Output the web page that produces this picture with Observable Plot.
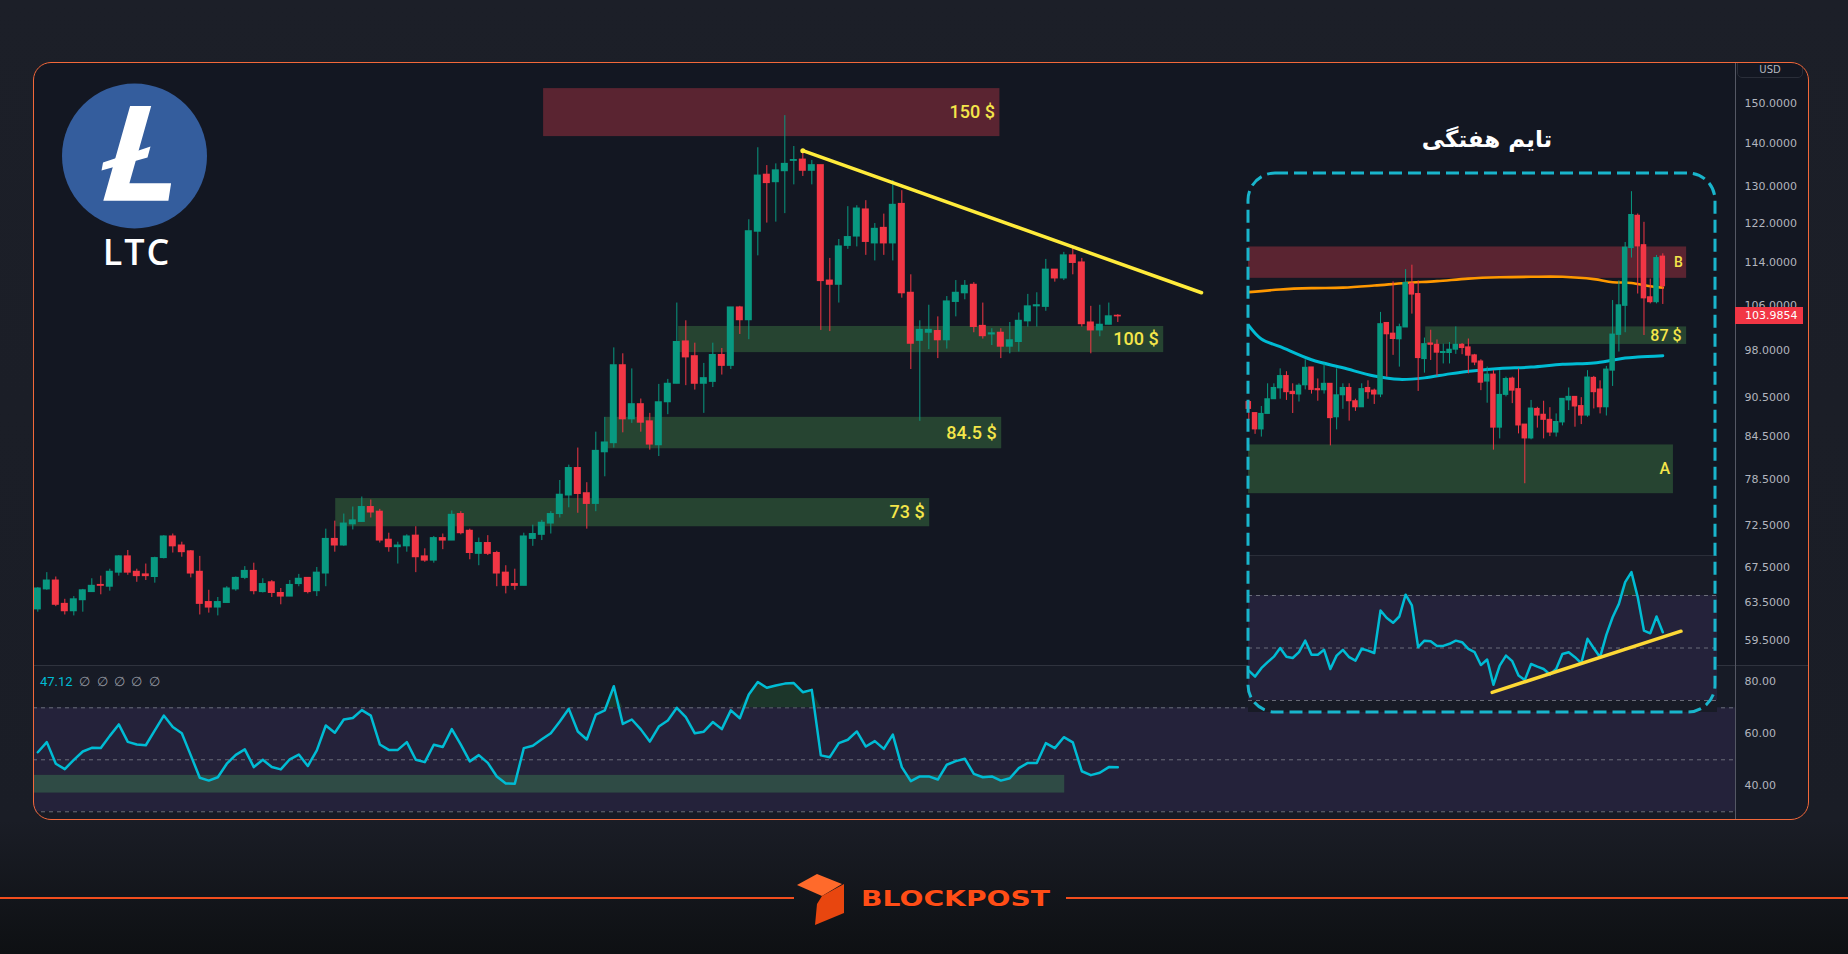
<!DOCTYPE html>
<html><head><meta charset="utf-8">
<script src="https://cdn.jsdelivr.net/npm/d3@7"></script>
<script src="https://cdn.jsdelivr.net/npm/@observablehq/plot@0.6"></script>
<style>
html,body{margin:0;padding:0;}
body{width:1848px;height:954px;overflow:hidden;background:linear-gradient(180deg,#1c1f28 0%,#1a1d26 86%,#0e1013 100%);font-family:"DejaVu Sans",sans-serif;}
#stage{position:relative;width:1848px;height:954px;}
#frame{position:absolute;left:33px;top:62px;width:1776px;height:758px;border-radius:18px;overflow:hidden;background:#131722;}
#border{position:absolute;left:33px;top:62px;width:1776px;height:758px;box-sizing:border-box;border:1.5px solid #f2683a;border-radius:18px;pointer-events:none;}
.abs{position:absolute;}
svg{display:block;}
#deco{position:absolute;left:0;top:0;pointer-events:none;}
</style></head>
<body><div id="stage">
<div id="frame">
  <div id="price" class="abs" style="left:0;top:0;width:1776px;height:603px"></div>
  <div id="rsi" class="abs" style="left:0;top:603px;width:1776px;height:155px"></div>
  <div class="abs" style="left:0;top:603px;width:1776px;height:1px;background:#2f333e"></div>
  <div class="abs" style="left:1702px;top:0;width:1px;height:758px;background:#555864"></div>
  <div id="inset" class="abs" style="left:1215px;top:111px;width:469px;height:539px;background:#131722">
    <div id="wprice" class="abs" style="left:0;top:0;width:469px;height:382px"></div>
    <div id="wrsi" class="abs" style="left:0;top:382px;width:469px;height:157px"></div>
    <div class="abs" style="left:0;top:382px;width:469px;height:1px;background:#2a2e39"></div>
  </div>
  <div id="legend" class="abs" style="left:7px;top:612px;font-family:Roboto,sans-serif;font-size:13px;line-height:16px;white-space:pre"></div>
  <div class="abs" style="left:1704px;top:-4px;width:66px;height:20px;box-sizing:border-box;border:1px solid #2a2e39;border-radius:5px;color:#b2b5be;font-size:10px;line-height:22px;text-align:center">USD</div>
  <div id="badge" class="abs" style="left:1702px;width:68px;height:17px;background:#f23645;color:#fff;font-size:11px;line-height:17px;padding-left:10px;box-sizing:border-box"></div>
</div>
<div id="border"></div>
<svg id="deco" width="1848" height="954" viewBox="0 0 1848 954">
  <circle cx="134.5" cy="156" r="72.5" fill="#345d9d"/>
  <polygon points="130.1,105.9 151.2,105.9 129.4,183.2 171.1,183.2 168.4,200.8 103.3,200.8" fill="#ffffff"/>
  <polygon points="103,162.5 150.5,146.5 147.5,157.5 101.5,170.5" fill="#ffffff"/>
  <text x="137" y="265" text-anchor="middle" font-family="Open Sans, sans-serif" font-weight="600" font-size="36" letter-spacing="2" fill="#ffffff">LTC</text>
  <text x="1487" y="147" text-anchor="middle" font-family="DejaVu Sans, sans-serif" font-weight="bold" font-size="23" fill="#ffffff" direction="rtl">تایم هفتگی</text>
  <rect x="1248" y="173" width="467" height="539" rx="27" ry="27" fill="none" stroke="#19b5cc" stroke-width="3" stroke-dasharray="13 6"/>
  <line x1="0" y1="898" x2="794" y2="898" stroke="#f24e1e" stroke-width="2"/>
  <line x1="1066" y1="898" x2="1848" y2="898" stroke="#f24e1e" stroke-width="2"/>
  <polygon points="797,885 817,874 842,884 822,896" fill="#ff6a2b"/>
  <polygon points="822,896 844,884 844,913 815,925 817,904" fill="#e8460f"/>
  <text x="861" y="906" font-family="DejaVu Sans, sans-serif" font-weight="bold" font-size="22" fill="#ff4d16" textLength="189" lengthAdjust="spacingAndGlyphs" style="paint-order:stroke" stroke="#000" stroke-opacity="0.25" stroke-width="1">BLOCKPOST</text>
</svg>
</div>
<script>
// ---------- Daily LTC candles (main chart) ----------
const open = [62.8,65.0,66.0,63.4,62.6,63.8,64.7,65.5,65.3,66.9,
68.8,67.0,66.7,66.4,68.6,71.2,70.1,69.4,67.0,63.6,
63.0,63.5,65.0,66.3,67.1,64.7,65.8,64.6,64.2,65.6,
66.3,64.8,66.8,70.9,70.1,72.7,73.0,74.9,74.3,70.8,
69.9,70.0,71.3,68.8,68.3,71.0,70.7,74.0,71.9,69.1,
70.4,69.2,66.9,65.6,65.4,70.9,71.4,72.8,74.0,76.4,
80.1,76.7,75.3,82.3,83.6,95.6,87.1,89.4,86.8,83.3,
89.7,92.6,99.6,97.1,92.6,92.9,97.3,95.5,105.6,103.3,
120.3,132.7,131.0,133.5,135.9,136.2,133.6,134.9,110.6,109.8,
117.4,119.3,125.0,117.9,121.1,117.9,126.2,108.3,99.7,101.1,
101.4,99.8,106.6,108.2,109.8,102.3,100.8,101.1,98.7,99.5,
103.1,105.8,105.7,112.7,111.0,115.5,114.1,102.9,101.5,102.5,
104.1];
const high = [65.2,66.9,66.4,63.9,64.2,65.0,66.2,66.5,67.3,68.9,
69.5,67.3,67.9,68.7,71.3,71.5,70.5,69.5,68.8,64.9,
64.1,65.3,66.4,67.6,68.0,66.2,66.0,65.1,66.0,66.7,
66.3,67.5,72.1,73.1,74.0,74.9,76.2,75.8,74.6,71.6,
70.5,71.4,72.4,69.7,71.2,71.5,74.4,74.3,72.1,71.0,
71.3,69.4,67.7,67.3,71.6,72.6,73.2,74.3,78.4,80.5,
82.9,78.1,85.2,87.4,98.5,97.5,95.0,90.2,88.0,92.5,
93.3,106.4,103.2,99.3,95.9,99.3,98.4,105.6,105.8,122.8,
139.0,134.8,135.2,146.9,139.3,138.3,136.0,134.9,114.9,118.7,
125.6,125.8,126.9,122.0,124.0,131.4,129.1,111.7,103.2,106.0,
103.9,107.6,110.6,110.6,110.2,106.4,101.8,101.8,102.9,104.6,
108.0,108.3,114.7,112.7,116.1,117.3,114.9,105.8,106.0,106.4,
104.3];
const low = [62.5,64.9,63.1,62.2,62.1,62.5,64.7,64.4,64.8,66.5,
66.6,65.8,66.0,65.7,68.5,69.2,68.7,66.3,62.2,62.4,
62.1,63.5,64.8,66.1,64.4,64.6,64.1,63.3,64.2,65.3,
64.5,64.2,65.3,69.3,70.0,72.0,73.0,73.5,70.4,69.3,
67.9,69.3,66.9,68.1,68.0,69.6,70.7,71.4,68.4,67.7,
68.9,65.3,64.5,64.9,65.4,70.0,70.7,71.5,73.5,74.8,
74.1,72.1,74.3,78.9,82.9,85.1,86.5,85.2,82.6,81.7,
87.8,92.6,92.3,91.6,88.0,92.0,94.0,94.9,100.8,99.9,
115.4,122.1,122.3,124.1,130.4,132.3,130.4,101.5,101.3,106.4,
116.7,117.2,115.5,114.4,115.5,114.4,107.3,94.9,86.8,98.2,
96.7,98.3,103.9,107.0,101.1,100.0,98.9,96.7,97.5,97.8,
102.1,102.1,104.9,110.3,110.6,111.7,102.1,97.5,100.4,102.5,
102.9];
const close = [65.1,66.0,63.3,62.6,63.9,64.9,65.4,65.4,67.0,68.8,
66.9,66.5,66.5,68.6,71.2,70.0,69.3,66.8,63.4,63.0,
63.6,65.1,66.3,67.1,64.8,65.6,64.6,64.2,65.5,66.2,
64.7,66.9,70.9,70.1,72.8,73.2,74.9,74.2,70.7,69.9,
70.1,71.2,68.7,68.3,71.0,70.7,73.9,71.6,69.2,70.4,
69.1,66.8,65.4,65.4,71.2,71.5,72.9,74.0,76.5,80.1,
76.6,75.3,82.5,83.7,95.6,87.1,89.4,86.6,83.4,89.7,
92.6,99.5,96.9,92.6,93.5,97.3,95.5,105.6,103.3,120.4,
132.5,130.8,133.7,135.2,136.1,133.6,134.9,110.5,109.8,117.3,
119.2,125.2,118.2,120.9,117.9,126.0,108.2,99.2,101.6,101.6,
99.8,106.7,108.3,109.6,102.1,100.5,101.0,98.7,99.8,103.2,
105.8,106.0,112.7,111.0,115.5,114.0,102.6,101.5,102.5,104.0,
103.9854];
const rsi = [52.9,56.8,48.5,46.4,50.0,53.2,54.6,54.5,59.2,63.6,
56.9,55.9,55.6,61.3,67.0,62.6,60.2,51.7,43.1,42.0,
43.3,48.5,51.9,54.0,47.2,50.0,47.2,46.3,50.2,52.0,
47.6,53.6,63.2,60.4,65.5,66.1,69.1,67.0,55.9,53.8,
53.8,56.8,50.0,49.1,55.8,54.9,61.8,55.8,49.4,51.8,
48.8,43.6,40.9,40.8,54.5,55.4,57.9,60.2,64.7,69.6,
60.9,57.8,67.4,69.0,78.3,63.8,65.5,61.7,57.0,62.8,
65.1,70.0,66.4,60.2,60.8,64.5,61.8,69.0,66.0,75.1,
79.9,77.7,78.6,79.3,79.5,76.0,76.9,51.7,51.0,56.4,
57.7,60.9,55.1,57.2,54.2,59.7,47.2,41.8,43.6,43.6,
42.4,48.1,49.5,50.4,44.6,43.3,43.6,42.0,42.9,46.8,
48.8,48.8,56.4,54.5,58.7,56.7,45.6,44.1,45.0,47.2,
47.12];
const lastPrice = 103.9854;
const priceTicks = [150,140,130,122,114,106,98,90.5,84.5,78.5,72.5,67.5,63.5,59.5];
const rsiTicks = [80,60,40];

// zones on the daily chart (candle-index extents, price bounds)
const zoneLabel = ["150 $","100 $","84.5 $","73 $"];
const zoneKind = ["supply","demand","demand","demand"];
const zoneFrom = [56.2,71.2,63.1,33.1];
const zoneTo = [106.9,125.1,107.1,99.1];
const zoneLow = [141.7,97.7,82.8,72.4];
const zoneHigh = [153.9,102.2,87.4,76.0];
// descending trendline (candle index, price)
const trendIdx = [85.0,129.3];
const trendPrice = [138.3,108.3];
// RSI oversold box on daily RSI
const rsiBoxTo = 114.1, rsiBoxLow = 37.2, rsiBoxHigh = 44.0;

// ---------- Weekly inset ----------
const wOpen = [67.6,64.9,61.1,64.7,68.3,71.1,74.4,70.2,69.5,71.9,
76.8,70.9,70.6,72.3,63.9,69.3,71.2,67.8,66.3,71.2,
70.5,69.5,90.5,87.0,85.2,89.0,104.6,100.7,79.2,83.9,
83.5,81.0,81.0,82.0,83.5,82.7,80.3,78.5,72.9,74.8,
61.5,69.4,73.7,70.9,62.2,59.1,65.9,64.5,63.3,60.4,
62.7,68.0,68.9,66.6,64.3,73.9,70.8,66.3,75.9,86.6,
96.4,119.3,134.4,120.6,99.5,97.7,115.6];
const wHigh = [68.0,64.9,66.5,72.3,72.3,76.4,75.6,72.3,72.3,79.0,
76.8,73.6,77.8,72.3,76.4,72.3,72.3,68.3,72.3,73.1,
70.9,94.1,90.5,105.3,90.1,110.2,112.0,105.7,85.6,88.1,
85.0,83.7,84.2,89.2,83.9,85.3,80.6,79.0,76.9,75.9,
75.9,74.1,74.1,76.4,62.2,68.0,66.3,67.8,66.2,64.7,
68.4,71.2,68.9,68.7,75.9,74.3,73.1,77.1,98.3,105.7,
121.8,146.9,135.3,131.2,106.4,116.1,116.8];
const wLow = [63.1,60.0,59.4,64.7,68.3,68.3,68.0,64.8,67.6,70.7,
69.6,67.8,69.6,57.5,61.0,65.8,63.0,65.3,66.3,68.3,
67.0,68.7,74.1,80.3,76.9,89.0,93.5,70.3,75.2,78.8,
74.3,77.8,77.8,80.6,80.5,75.0,77.3,70.5,67.3,56.6,
59.0,68.9,67.2,60.1,50.0,58.8,61.4,59.0,59.5,59.4,
61.9,65.5,61.6,62.2,63.9,65.9,64.7,64.2,71.6,81.3,
87.3,115.0,100.7,86.4,97.1,97.1,96.9];
const wClose = [65.9,61.1,64.7,68.3,71.2,74.4,70.1,69.6,71.8,76.7,
70.7,70.6,72.3,63.7,69.3,71.2,67.8,66.3,70.9,70.1,
69.5,90.1,86.8,85.3,89.1,104.9,100.5,79.5,83.7,83.5,
81.1,81.3,82.0,83.5,82.5,80.2,78.2,72.6,74.8,61.5,
69.4,73.6,70.5,62.0,59.1,66.0,64.3,63.3,60.4,62.8,
68.4,68.9,66.5,64.3,74.0,70.1,66.3,76.2,86.7,96.6,
119.5,134.8,120.0,99.1,97.7,115.0,103.6];
const wRsi = [41.4,39.1,42.3,44.6,46.7,50.0,46.7,46.2,48.4,52.8,
47.4,47.4,49.3,42.0,47.1,49.3,46.5,45.2,49.7,49.0,
48.1,64.3,61.4,59.6,62.0,70.3,66.2,50.3,52.8,52.6,
50.8,50.8,51.6,52.8,52.2,49.7,48.4,43.5,45.6,36.0,
43.3,47.1,45.0,39.5,37.8,43.9,42.9,42.0,39.9,42.0,
47.7,48.4,46.5,44.2,53.5,49.9,46.5,55.0,61.7,66.8,
75.1,78.9,69.4,56.6,55.6,62.0,56.0];
const maSlowIdx = [0,5,10,15,20,25,30,35,40,45,50,55,58,61,64,66];
const maSlowVal = [101.4,102.4,102.9,103.1,103.9,104.9,105.6,106.6,107.1,107.3,107.3,106.4,105.2,104.9,103.6,103.1];
const maFastIdx = [0,2,5,10,15,20,24,28,32,36,40,45,50,55,58,60,62,66];
const maFastVal = [89.6,85.3,82.9,79.0,76.7,74.4,73.5,73.9,75.0,75.9,76.5,76.9,77.7,78.1,78.9,79.5,79.8,80.2];
const wZoneLabel = ["B","87 $","A"];
const wZoneKind = ["supply","demand","demand"];
const wZoneFrom = [-0.05,28.2,-0.05];
const wZoneTo = [69.8,69.8,67.7];
const wZoneLow = [106.7,83.6,48.2];
const wZoneHigh = [119.8,89.2,57.7];
const wTrendIdx = [38.8,68.9];
const wTrendRsi = [33.1,56.4];

// ---------- styling ----------
const GREEN = "#089981", RED = "#f23645";
const ZONE_RED = "#5a2431", ZONE_GREEN = "#264431";
const LABEL = "#f4e64a", YELLOW = "#ffeb3b";
const BAND = "#24223a", CYAN = "#00bcd4";
const baseStyle = {background: "transparent", color: "#b2b5be", fontFamily: "DejaVu Sans, sans-serif", fontSize: "11px", maxWidth: "none", overflow: "visible"};

const rows = close.map((c, i) => ({i, o: open[i], h: high[i], l: low[i], c}));
const up = d => d.c >= d.o, down = d => d.c < d.o;
const zones = zoneLabel.map((label, k) => ({label, kind: zoneKind[k], from: zoneFrom[k], to: zoneTo[k], lo: zoneLow[k], hi: zoneHigh[k]}));
const trend = trendIdx.map((x, k) => ({x, y: trendPrice[k]}));
const X0 = -0.478, X1 = 188.63, BW = 0.39;

const price = Plot.plot({
  width: 1776, height: 603, marginLeft: 0, marginRight: 74, marginTop: 0, marginBottom: 0,
  x: {domain: [X0, X1], axis: null},
  y: {type: "log", domain: [57.02, 160.97], axis: "right", ticks: priceTicks, tickFormat: d3.format(".4f"), tickSize: 0, tickPadding: 9, label: null},
  style: baseStyle,
  marks: [
    Plot.rect(zones, {filter: d => d.kind === "supply", x1: "from", x2: "to", y1: "lo", y2: "hi", fill: ZONE_RED}),
    Plot.rect(zones, {filter: d => d.kind === "demand", x1: "from", x2: "to", y1: "lo", y2: "hi", fill: ZONE_GREEN}),
    Plot.text(zones, {x: "to", y: d => Math.sqrt(d.lo * d.hi), text: "label", textAnchor: "end", dx: -5, fill: LABEL, fontSize: 18, fontWeight: 500, fontFamily: "Roboto, sans-serif"}),
    Plot.ruleX(rows, {filter: up, x: "i", y1: "l", y2: "h", stroke: GREEN, strokeWidth: 1}),
    Plot.ruleX(rows, {filter: down, x: "i", y1: "l", y2: "h", stroke: RED, strokeWidth: 1}),
    Plot.rect(rows, {filter: up, x1: d => d.i - BW, x2: d => d.i + BW, y1: "o", y2: "c", fill: GREEN, insetTop: -0.5, insetBottom: -0.5}),
    Plot.rect(rows, {filter: down, x1: d => d.i - BW, x2: d => d.i + BW, y1: "o", y2: "c", fill: RED, insetTop: -0.5, insetBottom: -0.5}),
    Plot.line(trend, {x: "x", y: "y", stroke: YELLOW, strokeWidth: 3.5}),
    Plot.dot(trend.slice(0, 1), {x: "x", y: "y", r: 2.5, fill: YELLOW})
  ]
});
document.getElementById("price").append(price);

const rsiRows = rsi.map((v, i) => ({i, v}));
const rsiPlot = Plot.plot({
  width: 1776, height: 155, marginLeft: 0, marginRight: 74, marginTop: 0, marginBottom: 0,
  x: {domain: [X0, X1], axis: null},
  y: {domain: [26.65, 86.27], axis: "right", ticks: rsiTicks, tickFormat: d3.format(".2f"), tickSize: 0, tickPadding: 9, label: null},
  style: {...baseStyle, background: "#171b26"},
  marks: [
    Plot.rect([{a: X0, b: X1, lo: 30, hi: 70}], {x1: "a", x2: "b", y1: "lo", y2: "hi", fill: BAND}),
    Plot.rect([{a: X0, b: rsiBoxTo, lo: rsiBoxLow, hi: rsiBoxHigh}], {x1: "a", x2: "b", y1: "lo", y2: "hi", fill: "#2f4b45"}),
    Plot.ruleY([70, 50, 30], {stroke: "#787b86", strokeDasharray: "4,4", strokeOpacity: 0.85}),
    Plot.areaY(rsiRows, {x: "i", y1: 70, y2: d => Math.max(70, d.v), fill: "#1d3a2b", fillOpacity: 0.9}),
    Plot.line(rsiRows, {x: "i", y: "v", stroke: CYAN, strokeWidth: 2.5, strokeLinejoin: "round"})
  ]
});
document.getElementById("rsi").append(rsiPlot);

document.getElementById("legend").innerHTML =
  `<span style="color:${CYAN}">${d3.format(".2f")(rsi[rsi.length - 1])}</span><span style="color:#9598a1">  ∅  ∅  ∅  ∅  ∅</span>`;

const badge = document.getElementById("badge");
badge.textContent = d3.format(".4f")(lastPrice);
badge.style.top = (price.scale("y").apply(lastPrice) - 8.5) + "px";

// ---------- weekly inset ----------
const wRows = wClose.map((c, i) => ({i, o: wOpen[i], h: wHigh[i], l: wLow[i], c}));
const wZones = wZoneLabel.map((label, k) => ({label, kind: wZoneKind[k], from: wZoneFrom[k], to: wZoneTo[k], lo: wZoneLow[k], hi: wZoneHigh[k]}));
const maSlow = maSlowIdx.map((x, k) => ({x, y: maSlowVal[k]}));
const maFast = maFastIdx.map((x, k) => ({x, y: maFastVal[k]}));
const WX0 = -0.048, WX1 = 74.72, WBW = 0.44;

const wPrice = Plot.plot({
  width: 469, height: 382, margin: 0,
  x: {domain: [WX0, WX1], axis: null},
  y: {type: "log", domain: [38.37, 157.1], axis: null},
  style: {...baseStyle, background: "#131722"},
  marks: [
    Plot.rect(wZones, {filter: d => d.kind === "supply", x1: "from", x2: "to", y1: "lo", y2: "hi", fill: ZONE_RED}),
    Plot.rect(wZones, {filter: d => d.kind === "demand", x1: "from", x2: "to", y1: "lo", y2: "hi", fill: ZONE_GREEN}),
    Plot.text(wZones, {filter: d => d.label === "B", x: d => d.to - 1.3, y: d => Math.sqrt(d.lo * d.hi), text: "label", fill: LABEL, fontSize: 14, fontWeight: 500, fontFamily: "Roboto, sans-serif"}),
    Plot.text(wZones, {filter: d => d.label === "87 $", x: "to", y: d => Math.sqrt(d.lo * d.hi), text: "label", textAnchor: "end", dx: -5, fill: LABEL, fontSize: 16, fontWeight: 500, fontFamily: "Roboto, sans-serif"}),
    Plot.text(wZones, {filter: d => d.label === "A", x: d => d.to - 1.4, y: d => Math.sqrt(d.lo * d.hi), text: "label", fill: LABEL, fontSize: 16, fontWeight: 500, fontFamily: "Roboto, sans-serif"}),
    Plot.line(maSlow, {x: "x", y: "y", stroke: "#ff9800", strokeWidth: 2.6, curve: "catmull-rom"}),
    Plot.line(maFast, {x: "x", y: "y", stroke: CYAN, strokeWidth: 3, curve: "catmull-rom"}),
    Plot.ruleX(wRows, {filter: up, x: "i", y1: "l", y2: "h", stroke: GREEN}),
    Plot.ruleX(wRows, {filter: down, x: "i", y1: "l", y2: "h", stroke: RED}),
    Plot.rect(wRows, {filter: up, x1: d => d.i - WBW, x2: d => d.i + WBW, y1: "o", y2: "c", fill: GREEN, insetTop: -0.5, insetBottom: -0.5}),
    Plot.rect(wRows, {filter: down, x1: d => d.i - WBW, x2: d => d.i + WBW, y1: "o", y2: "c", fill: RED, insetTop: -0.5, insetBottom: -0.5})
  ]
});
document.getElementById("wprice").append(wPrice);

const wRsiRows = wRsi.map((v, i) => ({i, v}));
const wTrend = wTrendIdx.map((x, k) => ({x, y: wTrendRsi[k]}));
const wRsiPlot = Plot.plot({
  width: 469, height: 157, margin: 0,
  x: {domain: [WX0, WX1], axis: null},
  y: {domain: [25.43, 85.24], axis: null},
  style: {...baseStyle, background: "#181b26"},
  marks: [
    Plot.rect([{a: WX0, b: WX1, lo: 30, hi: 70}], {x1: "a", x2: "b", y1: "lo", y2: "hi", fill: BAND}),
    Plot.ruleY([70, 50, 30], {stroke: "#787b86", strokeDasharray: "4,4", strokeOpacity: 0.85}),
    Plot.areaY(wRsiRows, {x: "i", y1: 70, y2: d => Math.max(70, d.v), fill: "#1d3a2b", fillOpacity: 0.9}),
    Plot.line(wRsiRows, {x: "i", y: "v", stroke: CYAN, strokeWidth: 2.5, strokeLinejoin: "round"}),
    Plot.line(wTrend, {x: "x", y: "y", stroke: "#fdd835", strokeWidth: 3.5, strokeLinecap: "round"})
  ]
});
document.getElementById("wrsi").append(wRsiPlot);
</script>
</body></html>
